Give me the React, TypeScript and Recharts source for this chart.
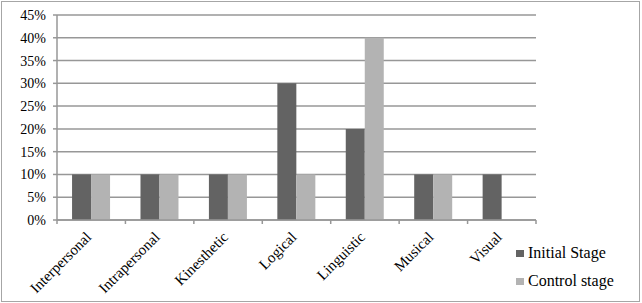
import React from "react";
import { BarChart, CartesianGrid, XAxis, YAxis, Legend, Bar } from "recharts";

const categories = ["Interpersonal", "Intrapersonal", "Kinesthetic", "Logical", "Linguistic", "Musical", "Visual"];
const initialStage = [10, 10, 10, 30, 20, 10, 10];
const controlStage = [10, 10, 10, 10, 40, 10, 0];
const seriesNames = ["Initial Stage", "Control stage"];
const yTicks = [0, 5, 10, 15, 20, 25, 30, 35, 40, 45];

const data = categories.map((name, i) => ({
  name,
  initial: initialStage[i],
  control: controlStage[i],
}));

const FONT = "Liberation Serif";
const GRID = "#979797";
const COLORS = ["#636363", "#b3b3b3"];

const CategoryTick = (props: any) => {
  const { x, y, payload, index, visibleTicksCount } = props;
  const half = payload.offset || 0;
  const isLast = index === visibleTicksCount - 1;
  const ax = x + 1;
  const ay = y + 10;
  return (
    <g>
      <line x1={x - half} y1={y - 8} x2={x - half} y2={y - 4} stroke={GRID} strokeWidth={1.5} />
      {isLast && <line x1={x + half} y1={y - 8} x2={x + half} y2={y - 4} stroke={GRID} strokeWidth={1.5} />}
      <text
        x={ax}
        y={ay}
        transform={`rotate(-45, ${ax}, ${ay})`}
        textAnchor="end"
        style={{ fontFamily: FONT, fontSize: 15 }}
        fill="#000"
      >
        {payload.value}
      </text>
    </g>
  );
};

const LegendBox = (props: any) => {
  const items = [...(props.payload || [])].sort(
    (a: any, b: any) => seriesNames.indexOf(a.value) - seriesNames.indexOf(b.value)
  );
  return (
    <div style={{ fontFamily: FONT, fontSize: 16, color: "#000" }}>
      {items.map((entry: any, i: number) => (
        <div key={i} style={{ display: "flex", alignItems: "center", height: 28 }}>
          <span style={{ width: 8, height: 7, background: entry.color, display: "inline-block", marginRight: 4 }} />
          <span>{entry.value}</span>
        </div>
      ))}
    </div>
  );
};

const App: React.FC = () => {
  return (
    <div style={{ position: "absolute", left: 0, top: 0, width: 642, height: 303, background: "#fff", fontFamily: FONT }}>
      <div style={{ position: "absolute", left: 1, top: 1, width: 637, height: 299, border: "1px solid #a6a6a6" }} />
      <BarChart
        width={642}
        height={303}
        data={data}
        margin={{ top: 15, right: 106, bottom: 0, left: 0 }}
        barCategoryGap="22%"
        barGap={0}
        style={{ fontFamily: FONT }}
      >
        <CartesianGrid vertical={false} stroke={GRID} strokeWidth={1.5} />
        <XAxis
          dataKey="name"
          interval={0}
          tickLine={false}
          axisLine={{ stroke: GRID, strokeWidth: 1.5 }}
          tick={<CategoryTick />}
          tickMargin={0}
          tickSize={8}
          height={83}
        />
        <YAxis
          width={57}
          domain={[0, 45]}
          ticks={yTicks}
          interval={0}
          tickFormatter={(v: number) => `${v}%`}
          axisLine={{ stroke: GRID, strokeWidth: 1.5 }}
          tickLine={{ stroke: GRID, strokeWidth: 1.5 }}
          tickSize={4}
          tickMargin={7}
          tick={{ fontFamily: FONT, fontSize: 14, fill: "#000" }}
        />
        <Legend
          layout="vertical"
          align="center"
          verticalAlign="middle"
          content={<LegendBox />}
          wrapperStyle={{ left: 516, top: 239, width: 120 }}
        />
        <Bar dataKey="initial" name={seriesNames[0]} fill={COLORS[0]} isAnimationActive={false} />
        <Bar dataKey="control" name={seriesNames[1]} fill={COLORS[1]} isAnimationActive={false} />
      </BarChart>
    </div>
  );
};

export default App;
